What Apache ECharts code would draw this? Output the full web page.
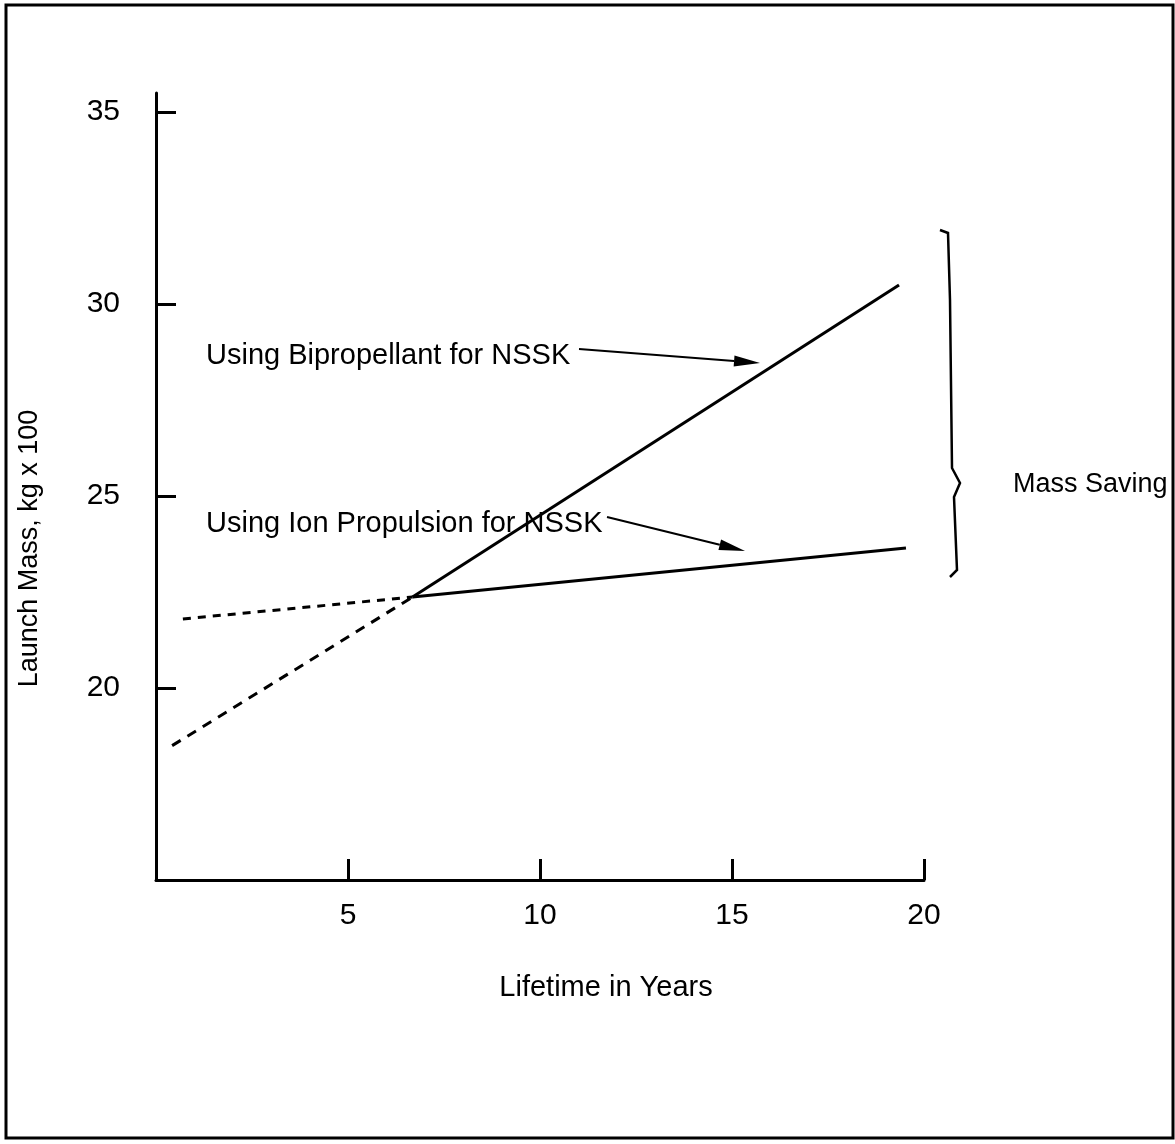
<!DOCTYPE html>
<html>
<head>
<meta charset="utf-8">
<script src="https://cdn.jsdelivr.net/npm/echarts@6/dist/echarts.min.js"></script>
<style>
html,body{margin:0;padding:0;background:#fff;}
#chart{width:1175px;height:1144px;}
</style>
</head>
<body>
<div id="chart"></div>
<script>
// ---- data ----
const xTicks = [5, 10, 15, 20];
const yTicks = [20, 25, 30, 35];
const biPropDashed = [[0.42, 18.5], [6.68, 22.37]];
const biPropSolid = [[6.68, 22.37], [19.35, 30.5]];
const ionDashed = [[0.7, 21.8], [6.68, 22.37]];
const ionSolid = [[6.68, 22.37], [19.53, 23.65]];
const labelBiProp = 'Using Bipropellant for NSSK';
const labelIon = 'Using Ion Propulsion for NSSK';
const labelSaving = 'Mass Saving';
const xName = 'Lifetime in Years';
const yName = 'Launch Mass, kg x 100';

const FONT = '"Liberation Sans", Arial, Helvetica, sans-serif';
const chart = echarts.init(document.getElementById('chart'), null, {renderer: 'canvas'});

function arrow(x1, y1, x2, y2) {
  const ang = Math.atan2(y2 - y1, x2 - x1);
  const L = 26, W = 5.5;
  const bx = x2 - L * Math.cos(ang), by = y2 - L * Math.sin(ang);
  const px = -Math.sin(ang) * W, py = Math.cos(ang) * W;
  return [
    {type: 'line', shape: {x1: x1, y1: y1, x2: bx, y2: by}, style: {stroke: '#000', lineWidth: 2.2}},
    {type: 'polygon', shape: {points: [[x2, y2], [bx + px, by + py], [bx - px, by - py]]}, style: {fill: '#000'}}
  ];
}

const lineStyleSolid = {color: '#000', width: 3, type: 'solid'};
const lineStyleDash = {color: '#000', width: 3, type: [10, 8]};

const option = {
  backgroundColor: '#fff',
  animation: false,
  grid: {left: 156, right: 251, top: 93, bottom: 264, containLabel: false},
  xAxis: {
    type: 'value', min: 0, max: 20, interval: 5,
    name: xName, nameLocation: 'middle', nameGap: 93,
    nameTextStyle: {fontFamily: FONT, fontSize: 29, color: '#000', padding: [0, 0, 0, 132]},
    axisLine: {show: true, onZero: false, lineStyle: {color: '#000', width: 3}},
    axisTick: {show: true, inside: true, length: 21, customValues: xTicks, lineStyle: {color: '#000', width: 3}},
    axisLabel: {show: true, customValues: xTicks, margin: 21, fontFamily: FONT, fontSize: 30, color: '#000'},
    splitLine: {show: false}
  },
  yAxis: {
    type: 'value', min: 15, max: 35.5, interval: 5,
    name: yName, nameLocation: 'middle', nameGap: 113, nameRotate: 90,
    nameTextStyle: {fontFamily: FONT, fontSize: 27, color: '#000', padding: [0, 124, 0, 0]},
    axisLine: {show: true, onZero: false, lineStyle: {color: '#000', width: 3}},
    axisTick: {show: true, inside: true, length: 20, customValues: yTicks, lineStyle: {color: '#000', width: 3}},
    axisLabel: {show: true, customValues: yTicks, margin: 36, fontFamily: FONT, fontSize: 30, color: '#000'},
    splitLine: {show: false}
  },
  series: [
    {type: 'line', name: 'biprop-extrap', data: biPropDashed, showSymbol: false, symbol: 'none', lineStyle: lineStyleDash},
    {type: 'line', name: 'biprop', data: biPropSolid, showSymbol: false, symbol: 'none', lineStyle: lineStyleSolid},
    {type: 'line', name: 'ion-extrap', data: ionDashed, showSymbol: false, symbol: 'none', lineStyle: {color: '#000', width: 3, type: [8, 7]}},
    {type: 'line', name: 'ion', data: ionSolid, showSymbol: false, symbol: 'none', lineStyle: lineStyleSolid}
  ],
  graphic: [
    {type: 'rect', shape: {x: 6, y: 5, width: 1167, height: 1133}, style: {fill: 'none', stroke: '#000', lineWidth: 3}, silent: true},
    {type: 'text', left: 206, top: 341, style: {text: labelBiProp, font: '29px ' + FONT, fill: '#000'}},
    {type: 'text', left: 206, top: 509, style: {text: labelIon, font: '29px ' + FONT, fill: '#000'}},
    {type: 'text', left: 1013, top: 471, style: {text: labelSaving, font: '27px ' + FONT, fill: '#000'}},
    ...arrow(579, 349, 760, 363),
    ...arrow(607, 517, 745, 551),
    {type: 'polyline', shape: {points: [[940, 230], [948, 233], [950, 300], [952, 468], [960, 483], [954, 497], [957, 570], [950, 577]]}, style: {stroke: '#000', lineWidth: 2.5, fill: 'none'}}
  ]
};
chart.setOption(option);
</script>
</body>
</html>
